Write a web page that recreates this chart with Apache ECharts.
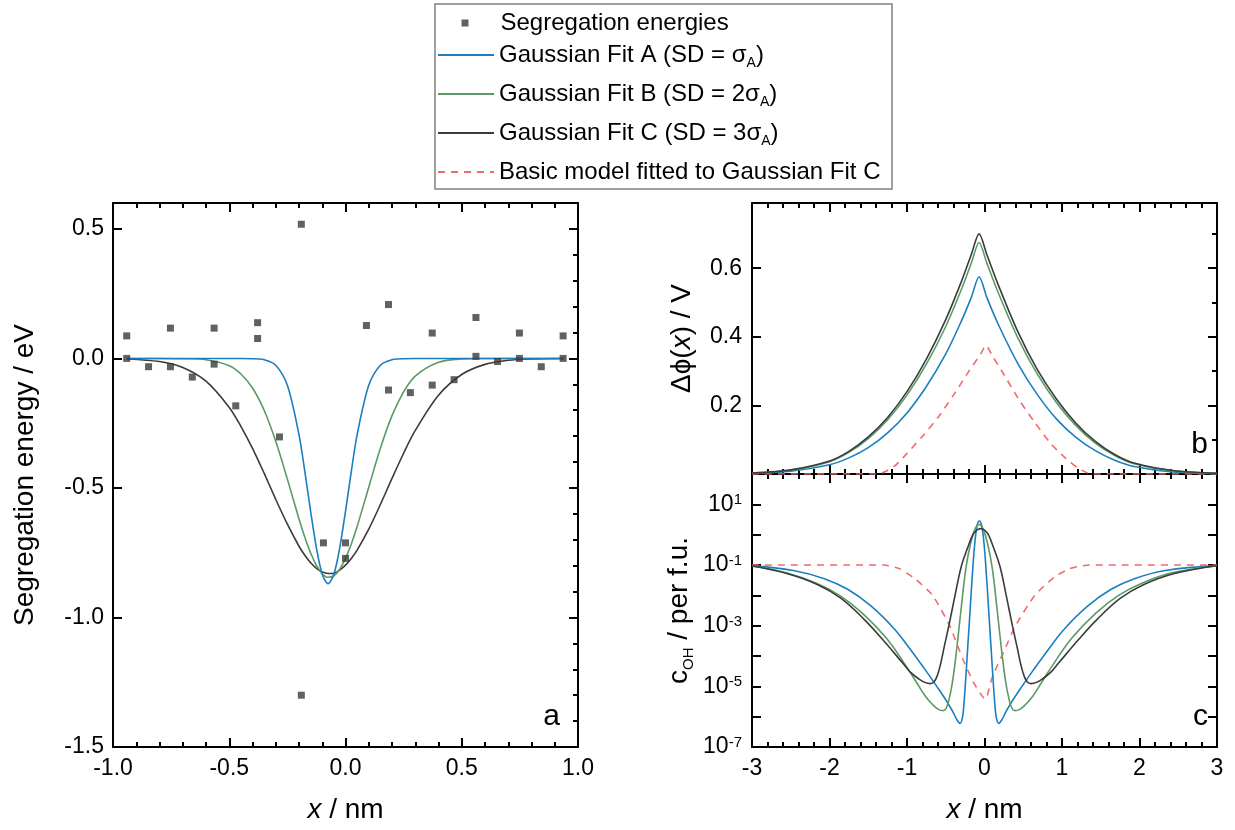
<!DOCTYPE html>
<html>
<head>
<meta charset="utf-8">
<script src="https://cdn.jsdelivr.net/npm/echarts@6.0.0/dist/echarts.min.js"></script>
<style>
  html, body { margin: 0; padding: 0; background: #fff; }
  #container { width: 1235px; height: 830px; }
</style>
</head>
<body>
<div id="container"></div>
<script>
var FONT = 'Liberation Sans';

// panel a: segregation energies (x / nm, E / eV)
var segX = [-0.941, -0.941, -0.847, -0.753, -0.753, -0.659, -0.565, -0.565, -0.472, -0.378, -0.378, -0.284, -0.19, -0.19, -0.095, 0, 0,
  0.09, 0.185, 0.185, 0.279, 0.373, 0.373, 0.467, 0.561, 0.561, 0.654, 0.748, 0.748, 0.842, 0.936, 0.936];
var segE = [0.087, 0, -0.032, 0.117, -0.032, -0.072, 0.117, -0.022, -0.183, 0.138, 0.077, -0.303, 0.518, -1.3, -0.712, -0.712, -0.772,
  0.127, 0.208, -0.122, -0.132, 0.098, -0.103, -0.082, 0.158, 0.008, -0.012, 0.098, 0, -0.032, 0.087, 0];

// panel a: gaussian fits
var fitX = [-0.94, -0.8, -0.7, -0.6, -0.5, -0.45, -0.4, -0.35, -0.3, -0.25, -0.2, -0.175, -0.15, -0.125, -0.1, -0.075, -0.05, -0.025,
  0, 0.025, 0.05, 0.1, 0.15, 0.2, 0.25, 0.3, 0.4, 0.5, 0.6, 0.7, 0.8, 0.94];
var fitA = [0, 0, 0, 0, 0, 0, -0.001, -0.005, -0.026, -0.104, -0.295, -0.436, -0.59, -0.732, -0.833, -0.87, -0.833, -0.732,
  -0.59, -0.436, -0.295, -0.104, -0.026, -0.005, -0.001, 0, 0, 0, 0, 0, 0, 0];
var fitB = [0, 0, -0.001, -0.005, -0.028, -0.06, -0.114, -0.2, -0.32, -0.466, -0.62, -0.69, -0.751, -0.799, -0.831, -0.845, -0.839, -0.814,
  -0.772, -0.716, -0.649, -0.497, -0.347, -0.221, -0.129, -0.068, -0.015, -0.002, 0, 0, 0, 0];
var fitC = [-0.002, -0.012, -0.035, -0.088, -0.189, -0.262, -0.347, -0.443, -0.544, -0.64, -0.725, -0.76, -0.789, -0.81, -0.824, -0.83, -0.829, -0.817,
  -0.798, -0.772, -0.74, -0.659, -0.564, -0.463, -0.366, -0.278, -0.142, -0.062, -0.023, -0.007, -0.002, 0];

// panel b: potential (V)
var phiX = [-3, -2.5, -2, -1.75, -1.5, -1.25, -1, -0.75, -0.5, -0.3, -0.17, -0.07, 0.03, 0.18, 0.43, 0.68, 0.93, 1.18, 1.43, 1.68, 1.93, 2.43, 3];
var phiA = [0.002, 0.008, 0.027, 0.047, 0.077, 0.12, 0.178, 0.255, 0.35, 0.445, 0.515, 0.575, 0.515, 0.435, 0.322, 0.232, 0.16, 0.107, 0.068, 0.04, 0.022, 0.006, 0.001];
var phiB = [0.003, 0.011, 0.036, 0.063, 0.103, 0.158, 0.23, 0.32, 0.43, 0.537, 0.615, 0.675, 0.615, 0.527, 0.397, 0.292, 0.208, 0.141, 0.09, 0.054, 0.03, 0.009, 0.002];
var phiC = [0.003, 0.012, 0.038, 0.066, 0.108, 0.165, 0.24, 0.335, 0.45, 0.56, 0.64, 0.7, 0.64, 0.55, 0.415, 0.305, 0.218, 0.148, 0.095, 0.057, 0.032, 0.01, 0.002];
var phiRedX = [-3, -1.4, -1.3, -1.15, -1, -0.8, -0.6, -0.4, -0.2, -0.05, 0.02, 0.1, 0.25, 0.45, 0.65, 0.85, 1.05, 1.2, 1.32, 1.4, 3];
var phiRed = [0, 0, 0.005, 0.025, 0.06, 0.11, 0.165, 0.23, 0.3, 0.35, 0.375, 0.345, 0.29, 0.215, 0.15, 0.09, 0.045, 0.018, 0.004, 0, 0];

// panel c: OH concentration (per f.u.)
var cAX = [-3, -2.466, -2.066, -1.766, -1.466, -1.166, -0.966, -0.766, -0.616, -0.486, -0.406, -0.356, -0.316, -0.286, -0.266, -0.246, -0.216, -0.186, -0.156, -0.126, -0.096, -0.066,
  -0.036, -0.006, 0.024, 0.054, 0.084, 0.114, 0.134, 0.154, 0.184, 0.224, 0.274, 0.354, 0.484, 0.634, 0.834, 1.034, 1.334, 1.634, 1.934, 2.334, 3];
var cA = [9.55e-2, 6.61e-2, 3.55e-2, 1.58e-2, 4.47e-3, 7.94e-4, 1.78e-4, 3.55e-5, 1.0e-5, 3.16e-6, 1.41e-6, 7.94e-7, 6.03e-7, 8.91e-7, 2.51e-6, 1.26e-5, 2.0e-4, 3.16e-3, 5.01e-2, 0.501, 2.0, 2.82,
  2.0, 0.501, 5.01e-2, 3.16e-3, 2.0e-4, 1.26e-5, 2.51e-6, 8.91e-7, 6.03e-7, 7.94e-7, 1.41e-6, 3.16e-6, 1.0e-5, 3.55e-5, 1.78e-4, 7.94e-4, 4.47e-3, 1.58e-2, 3.55e-2, 6.61e-2, 9.55e-2];
var cBX = [-3, -2.57, -2.17, -1.87, -1.57, -1.27, -1.02, -0.87, -0.77, -0.67, -0.59, -0.53, -0.49, -0.45, -0.41, -0.36, -0.3, -0.24, -0.18, -0.12, -0.07,
  -0.02, 0.04, 0.1, 0.16, 0.22, 0.27, 0.31, 0.35, 0.39, 0.45, 0.53, 0.63, 0.73, 0.88, 1.13, 1.43, 1.73, 2.03, 2.43, 3];
var cB = [9.33e-2, 5.62e-2, 2.51e-2, 1.0e-2, 2.51e-3, 3.98e-4, 5.0e-5, 1.26e-5, 5.0e-6, 2.51e-6, 1.7e-6, 1.58e-6, 2.0e-6, 4.47e-6, 1.58e-5, 1.58e-4, 3.98e-3, 7.94e-2, 0.501, 1.58, 2.19,
  1.58, 0.501, 7.94e-2, 3.98e-3, 1.58e-4, 1.58e-5, 4.47e-6, 2.0e-6, 1.58e-6, 1.7e-6, 2.51e-6, 5.0e-6, 1.26e-5, 5.0e-5, 3.98e-4, 2.51e-3, 1.0e-2, 2.51e-2, 5.62e-2, 9.5e-2];
var cCX = [-3, -2.55, -2.15, -1.85, -1.55, -1.3, -1.05, -0.95, -0.85, -0.77, -0.7, -0.65, -0.61, -0.57, -0.52, -0.46, -0.38, -0.3, -0.22, -0.15, -0.1, -0.05,
  0, 0.05, 0.12, 0.2, 0.28, 0.36, 0.42, 0.47, 0.51, 0.55, 0.6, 0.67, 0.75, 0.85, 0.95, 1.2, 1.45, 1.75, 2.05, 2.45, 3];
var cC = [9.33e-2, 5.25e-2, 2.24e-2, 7.94e-3, 1.58e-3, 3.16e-4, 5.62e-5, 2.82e-5, 1.78e-5, 1.35e-5, 1.23e-5, 1.41e-5, 2.24e-5, 5.0e-5, 2.0e-4, 1.0e-3, 1.0e-2, 8.91e-2, 0.355, 1.0, 1.41, 1.58,
  1.41, 1.0, 0.355, 8.91e-2, 1.0e-2, 1.0e-3, 2.0e-4, 5.0e-5, 2.24e-5, 1.41e-5, 1.23e-5, 1.35e-5, 1.78e-5, 2.82e-5, 5.62e-5, 3.16e-4, 1.58e-3, 7.94e-3, 2.24e-2, 5.25e-2, 9.5e-2];
var cRedX = [-3, -1.3, -1.1, -0.9, -0.67, -0.45, -0.28, -0.135, 0.01, 0.1, 0.25, 0.4, 0.65, 0.9, 1.1, 1.35, 3];
var cRed = [0.1, 0.1, 7.59e-2, 3.55e-2, 1.0e-2, 1.0e-3, 7.94e-5, 1.26e-5, 3.8e-6, 2.0e-5, 1.41e-4, 1.0e-3, 1.0e-2, 3.98e-2, 7.59e-2, 0.1, 0.1];

var names = ['Segregation energies', 'Gaussian Fit A (SD = σA)', 'Gaussian Fit B (SD = 2σA)', 'Gaussian Fit C (SD = 3σA)', 'Basic model fitted to Gaussian Fit C'];
var colors = ['#3a3a3a', '#1a7fc1', '#5b9a63', '#3b3b3b', '#f26b6b'];

function pairs(xs, ys) { return xs.map(function (x, i) { return [x, ys[i]]; }); }

var dom = document.getElementById('container');
var myChart = echarts.init(dom, null, { renderer: 'canvas' });

var black = { color: '#000', width: 2 };
var axLine = { show: true, onZero: false, lineStyle: black };
var noLine = { show: false, onZero: false };
var labelFont = { fontFamily: FONT, fontSize: 23, color: '#000' };
var nameFont = {
  fontFamily: FONT, fontSize: 28, color: '#000',
  rich: {
    i: { fontFamily: FONT, fontSize: 28, fontStyle: 'italic', color: '#000' },
    s: { fontFamily: FONT, fontSize: 15, color: '#000', verticalAlign: 'bottom', lineHeight: 15 },
    t: { fontFamily: FONT, fontSize: 28, color: '#000', lineHeight: 34 }
  }
};

function xax(grid, o) {
  return Object.assign({
    type: 'value', gridIndex: grid, axisLine: axLine, splitLine: { show: false },
    axisTick: { inside: true, length: 9, lineStyle: black },
    minorTick: { show: true, splitNumber: 5, length: 5, lineStyle: black },
    axisLabel: { show: false }, nameMoveOverlap: false
  }, o);
}
function yax(grid, o) {
  return Object.assign({
    type: 'value', gridIndex: grid, axisLine: axLine, splitLine: { show: false },
    axisTick: { inside: true, length: 9, lineStyle: black },
    axisLabel: { show: false }, nameMoveOverlap: false
  }, o);
}

var lineBase = { type: 'line', showSymbol: false, symbol: 'none', smooth: 0.3, silent: true };
function line(name, ci, xi, yi, data, extra) {
  return Object.assign({}, lineBase, {
    name: name, xAxisIndex: xi, yAxisIndex: yi, data: data,
    lineStyle: { color: colors[ci], width: 1.6 }, itemStyle: { color: colors[ci] }
  }, extra || {});
}
var dashed = { color: colors[4], width: 1.6, type: [7, 6] };

var option = {
  animation: false,
  backgroundColor: '#fff',
  grid: [
    { left: 113, top: 203, width: 465, height: 544, outerBoundsMode: 'none' },
    { left: 752, top: 203, width: 465, height: 271, outerBoundsMode: 'none' },
    { left: 752, top: 474, width: 465, height: 273, outerBoundsMode: 'none' }
  ],
  legend: [
    {
      left: 461.5, top: 11, padding: 0, orient: 'vertical', selectedMode: false,
      itemWidth: 7, itemHeight: 7,
      data: [{ name: names[0], icon: 'rect' }],
      formatter: function (name) { return '{t|' + name + '}'; },
      textStyle: {
        fontFamily: FONT, fontSize: 24, color: '#000',
        rich: { t: { fontFamily: FONT, fontSize: 24, color: '#000', padding: [0, 0, 0, 27] } }
      }
    },
    {
      left: 437, top: 43, padding: 0, orient: 'vertical', selectedMode: false,
      itemWidth: 56, itemHeight: 14, itemGap: 8,
      itemStyle: { opacity: 0, borderWidth: 0 },
      data: names.slice(1),
      formatter: function (name) {
        var k = name.indexOf('σA');
        if (k < 0) return '{t|' + name + '}';
        return '{t|' + name.slice(0, k + 1) + '}{s|A}{t|' + name.slice(k + 2) + '}';
      },
      textStyle: {
        fontFamily: FONT, fontSize: 24, color: '#000',
        rich: {
          t: { fontFamily: FONT, fontSize: 24, color: '#000', lineHeight: 38 },
          s: { fontFamily: FONT, fontSize: 14, color: '#000', lineHeight: 14, padding: [0, 0, 4, 0], verticalAlign: 'bottom' }
        }
      }
    }
  ],
  xAxis: [
    xax(0, {
      min: -1, max: 1, interval: 0.5,
      axisLabel: Object.assign({ show: true, margin: 10, formatter: function (v) { return v.toFixed(1); } }, labelFont),
      name: '{i|x} / nm', nameLocation: 'middle', nameGap: 49, nameTextStyle: nameFont
    }),
    xax(0, { position: 'top', min: -1, max: 1, interval: 0.5 }),
    xax(1, { min: -3, max: 3, interval: 1 }),
    xax(1, { position: 'top', min: -3, max: 3, interval: 1 }),
    xax(2, {
      min: -3, max: 3, interval: 1,
      axisLabel: Object.assign({ show: true, margin: 10, formatter: function (v) { return String(v); } }, labelFont),
      name: '{i|x} / nm', nameLocation: 'middle', nameGap: 49, nameTextStyle: nameFont
    }),
    xax(2, { position: 'top', min: -3, max: 3, interval: 1 })
  ],
  yAxis: [
    // panel a
    yax(0, {
      min: -1.5, max: 0.6, interval: 0.5,
      axisLabel: Object.assign({ show: true, margin: 9, formatter: function (v) { return v > 0.55 ? '' : v.toFixed(1); } }, labelFont),
      name: 'Segregation energy / eV', nameLocation: 'middle', nameGap: 74, nameTextStyle: nameFont
    }),
    yax(0, { min: -1.5, max: 0.6, interval: 0.1, axisLine: noLine, axisTick: { inside: true, length: 5, lineStyle: black } }),
    yax(0, { position: 'right', min: -1.5, max: 0.6, interval: 0.5 }),
    yax(0, { position: 'right', min: -1.5, max: 0.6, interval: 0.1, axisLine: noLine, axisTick: { inside: true, length: 5, lineStyle: black } }),
    // panel b
    yax(1, {
      min: 0, max: 0.79, interval: 0.2,
      axisLabel: Object.assign({ show: true, margin: 10, formatter: function (v) { return (v > 0.01 && v < 0.7) ? v.toFixed(1) : ''; } }, labelFont),
      name: 'Δϕ({i|x}) / V', nameLocation: 'middle', nameGap: 56, nameTextStyle: nameFont
    }),
    yax(1, { min: 0, max: 0.79, interval: 0.1, axisLine: noLine, axisTick: { inside: true, length: 5, lineStyle: black } }),
    yax(1, { position: 'right', min: 0, max: 0.79, interval: 0.2 }),
    yax(1, { position: 'right', min: 0, max: 0.79, interval: 0.1, axisLine: noLine, axisTick: { inside: true, length: 5, lineStyle: black } }),
    // panel c
    yax(2, {
      type: 'log', logBase: 10, min: 1e-7, max: 100, interval: 1,
      axisLabel: {
        show: true, margin: 10,
        formatter: function (v) {
          var e = Math.round(Math.log(v) / Math.LN10);
          return (e % 2 !== 0) ? '{b|10}{p|' + e + '}' : '';
        },
        rich: {
          b: { fontFamily: FONT, fontSize: 23, color: '#000', verticalAlign: 'bottom' },
          p: { fontFamily: FONT, fontSize: 15, color: '#000', lineHeight: 15, padding: [0, 0, 10, 0], verticalAlign: 'top' }
        }
      },
      name: '{t|c}{s|OH}{t| / per f.u.}', nameLocation: 'middle', nameGap: 56, nameTextStyle: nameFont
    }),
    yax(2, { type: 'log', logBase: 10, position: 'right', min: 1e-7, max: 100, interval: 1 })
  ],
  graphic: [
    { type: 'rect', shape: { x: 435, y: 4, width: 457, height: 185 }, style: { fill: 'none', stroke: '#808080', lineWidth: 1.5 }, silent: true },
    { type: 'text', x: 560, y: 717, style: { text: 'a', font: '30px "Liberation Sans"', fill: '#000', align: 'right', textAlign: 'right', verticalAlign: 'middle', textVerticalAlign: 'middle' } },
    { type: 'text', x: 1208, y: 445, style: { text: 'b', font: '30px "Liberation Sans"', fill: '#000', align: 'right', textAlign: 'right', verticalAlign: 'middle', textVerticalAlign: 'middle' } },
    { type: 'text', x: 1208, y: 717, style: { text: 'c', font: '30px "Liberation Sans"', fill: '#000', align: 'right', textAlign: 'right', verticalAlign: 'middle', textVerticalAlign: 'middle' } }
  ],
  series: [
    line(names[3], 3, 0, 0, pairs(fitX, fitC)),
    line(names[2], 2, 0, 0, pairs(fitX, fitB)),
    line(names[1], 1, 0, 0, pairs(fitX, fitA)),
    {
      type: 'scatter', name: names[0], xAxisIndex: 0, yAxisIndex: 0, silent: true,
      symbol: 'rect', symbolSize: 7, itemStyle: { color: colors[0] },
      data: pairs(segX, segE), z: 5
    },
    line(names[4], 4, 2, 4, pairs(phiRedX, phiRed), { smooth: 0.2, lineStyle: dashed }),
    line(names[1], 1, 2, 4, pairs(phiX, phiA)),
    line(names[2], 2, 2, 4, pairs(phiX, phiB)),
    line(names[3], 3, 2, 4, pairs(phiX, phiC)),
    line(names[4], 4, 4, 8, pairs(cRedX, cRed), { smooth: 0.2, lineStyle: dashed }),
    line(names[1], 1, 4, 8, pairs(cAX, cA), { smooth: 0.4 }),
    line(names[2], 2, 4, 8, pairs(cBX, cB), { smooth: 0.4 }),
    line(names[3], 3, 4, 8, pairs(cCX, cC), { smooth: 0.4 })
  ]
};

myChart.setOption(option);
window.addEventListener('resize', myChart.resize);
</script>
</body>
</html>
